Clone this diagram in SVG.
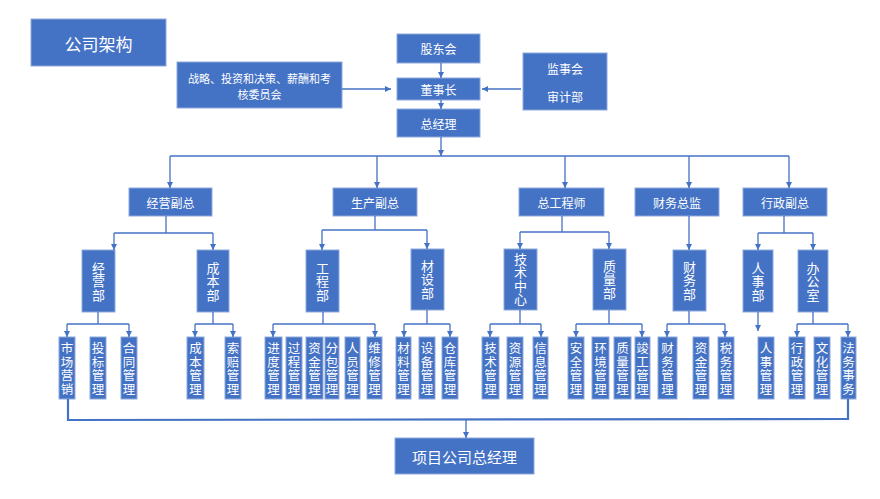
<svg xmlns="http://www.w3.org/2000/svg" width="880" height="499" viewBox="0 0 880 499">
<defs>
<marker id="ah" viewBox="0 0 10 10" refX="10" refY="5" markerWidth="6" markerHeight="6" markerUnits="userSpaceOnUse" orient="auto">
<path d="M0,0 L10,5 L0,10 z" fill="#4472C4"/>
</marker>
<style>
.b{fill:#4472C4;stroke:#8EA9DB;stroke-width:1}
.t{fill:#ffffff;font-family:"Noto Sans CJK SC","Microsoft YaHei",sans-serif;text-anchor:middle;dominant-baseline:central}
.v{writing-mode:vertical-rl;text-orientation:upright}
.s{font-size:12.5px;letter-spacing:1.2px}
.d{font-size:13px;letter-spacing:0.5px}
.m{font-size:12px}
.c line,.c polyline{stroke:#4472C4;stroke-width:1.3;fill:none}
.a{marker-end:url(#ah)}
</style>
</defs>
<rect width="880" height="499" fill="#ffffff"/>

<g id="title"><rect class="b" x="31" y="19" width="135" height="47"/><text class="t" x="98.5" y="43" style="font-size:17px">公司架构</text></g>
<g id="committee"><rect class="b" x="177" y="62" width="165" height="46"/><text class="t" x="259.5" y="77.5" style="font-size:11px">战略、投资和决策、薪酬和考</text><text class="t" x="259.5" y="93.5" style="font-size:11px">核委员会</text></g>
<g id="gudonghui"><rect class="b" x="397" y="34" width="83" height="29"/><text class="t m" x="438.5" y="48.5">股东会</text></g>
<g id="dongshizhang"><rect class="b" x="397" y="78" width="83" height="22"/><text class="t m" x="438.5" y="89">董事长</text></g>
<g id="zongjingli"><rect class="b" x="397" y="109" width="83" height="28"/><text class="t m" x="438.5" y="123">总经理</text></g>
<g id="jianshi"><rect class="b" x="523" y="53" width="84" height="57"/><text class="t m" x="565" y="68">监事会</text><text class="t m" x="565" y="96">审计部</text></g>

<g id="vp1"><rect class="b" x="129" y="188" width="83" height="28"/><text class="t m" x="170.5" y="202">经营副总</text></g>
<g id="vp2"><rect class="b" x="333" y="188" width="84" height="28"/><text class="t m" x="375" y="202">生产副总</text></g>
<g id="vp3"><rect class="b" x="519" y="188" width="85" height="28"/><text class="t m" x="561.5" y="202">总工程师</text></g>
<g id="vp4"><rect class="b" x="635" y="188" width="84" height="28"/><text class="t m" x="677" y="202">财务总监</text></g>
<g id="vp5"><rect class="b" x="743" y="188" width="84" height="28"/><text class="t m" x="785" y="202">行政副总</text></g>

<g id="dept-jingying"><rect class="b" x="82" y="250" width="33" height="62"/><text class="t v d" x="98.5" y="281.5">经营部</text></g>
<g id="dept-chengben"><rect class="b" x="197" y="250" width="32" height="62"/><text class="t v d" x="213" y="281.5">成本部</text></g>
<g id="dept-gongcheng"><rect class="b" x="306" y="250" width="33" height="62"/><text class="t v d" x="322.5" y="281.5">工程部</text></g>
<g id="dept-caishe"><rect class="b" x="411" y="249" width="33" height="61"/><text class="t v d" x="427.5" y="279.5">材设部</text></g>
<g id="dept-jishu"><rect class="b" x="504" y="249" width="33" height="61"/><text class="t v d" x="520.5" y="279.5">技术中心</text></g>
<g id="dept-zhiliang"><rect class="b" x="593" y="249" width="33" height="61"/><text class="t v d" x="609.5" y="279.5">质量部</text></g>
<g id="dept-caiwu"><rect class="b" x="673" y="250" width="33" height="61"/><text class="t v d" x="689.5" y="280.5">财务部</text></g>
<g id="dept-renshi"><rect class="b" x="743" y="250" width="30" height="62"/><text class="t v d" x="758" y="281.5">人事部</text></g>
<g id="dept-bangong"><rect class="b" x="798" y="250" width="30" height="62"/><text class="t v d" x="813" y="281.5">办公室</text></g>

<g id="n-shichang"><rect class="b" x="59" y="337" width="16" height="62"/><text class="t v s" x="67" y="369.5">市场营销</text></g>
<g id="n-toubiao"><rect class="b" x="90" y="337" width="16" height="62"/><text class="t v s" x="98" y="369.5">投标管理</text></g>
<g id="n-hetong"><rect class="b" x="121" y="337" width="16" height="62"/><text class="t v s" x="129" y="369.5">合同管理</text></g>
<g id="n-chengben"><rect class="b" x="187" y="337" width="17" height="62"/><text class="t v s" x="195.5" y="369.5">成本管理</text></g>
<g id="n-suopei"><rect class="b" x="225" y="337" width="16" height="62"/><text class="t v s" x="233" y="369.5">索赔管理</text></g>
<g id="n-jindu"><rect class="b" x="265" y="337" width="17" height="62"/><text class="t v s" x="273.5" y="369.5">进度管理</text></g>
<g id="n-guocheng"><rect class="b" x="286" y="337" width="16" height="62"/><text class="t v s" x="294" y="369.5">过程管理</text></g>
<g id="n-zijin1"><rect class="b" x="306" y="337" width="17" height="62"/><text class="t v s" x="314.5" y="369.5">资金管理</text></g>
<g id="n-fenbao"><rect class="b" x="325" y="337" width="14" height="62"/><text class="t v s" x="332" y="369.5">分包管理</text></g>
<g id="n-renyuan"><rect class="b" x="345" y="337" width="15" height="62"/><text class="t v s" x="352.5" y="369.5">人员管理</text></g>
<g id="n-weixiu"><rect class="b" x="367" y="337" width="15" height="62"/><text class="t v s" x="374.5" y="369.5">维修管理</text></g>
<g id="n-cailiao"><rect class="b" x="396" y="337" width="15" height="62"/><text class="t v s" x="403.5" y="369.5">材料管理</text></g>
<g id="n-shebei"><rect class="b" x="419" y="337" width="16" height="62"/><text class="t v s" x="427" y="369.5">设备管理</text></g>
<g id="n-cangku"><rect class="b" x="442" y="337" width="16" height="62"/><text class="t v s" x="450" y="369.5">仓库管理</text></g>
<g id="n-jishu"><rect class="b" x="482" y="337" width="17" height="62"/><text class="t v s" x="490.5" y="369.5">技术管理</text></g>
<g id="n-ziyuan"><rect class="b" x="507" y="337" width="16" height="62"/><text class="t v s" x="515" y="369.5">资源管理</text></g>
<g id="n-xinxi"><rect class="b" x="533" y="337" width="15" height="62"/><text class="t v s" x="540.5" y="369.5">信息管理</text></g>
<g id="n-anquan"><rect class="b" x="568" y="337" width="16" height="62"/><text class="t v s" x="576" y="369.5">安全管理</text></g>
<g id="n-huanjing"><rect class="b" x="592" y="337" width="17" height="62"/><text class="t v s" x="600.5" y="369.5">环境管理</text></g>
<g id="n-zhiliang"><rect class="b" x="614" y="337" width="17" height="62"/><text class="t v s" x="622.5" y="369.5">质量管理</text></g>
<g id="n-jungong"><rect class="b" x="635" y="337" width="15" height="62"/><text class="t v s" x="642.5" y="369.5">竣工管理</text></g>
<g id="n-caiwu"><rect class="b" x="658" y="337" width="19" height="62"/><text class="t v s" x="667.5" y="369.5">财务管理</text></g>
<g id="n-zijin2"><rect class="b" x="693" y="337" width="16" height="62"/><text class="t v s" x="701" y="369.5">资金管理</text></g>
<g id="n-shuiwu"><rect class="b" x="718" y="337" width="16" height="62"/><text class="t v s" x="726" y="369.5">税务管理</text></g>
<g id="n-renshi"><rect class="b" x="758" y="337" width="16" height="62"/><text class="t v s" x="766" y="369.5">人事管理</text></g>
<g id="n-xingzheng"><rect class="b" x="789" y="337" width="16" height="62"/><text class="t v s" x="797" y="369.5">行政管理</text></g>
<g id="n-wenhua"><rect class="b" x="814" y="337" width="16" height="62"/><text class="t v s" x="822" y="369.5">文化管理</text></g>
<g id="n-fawu"><rect class="b" x="841" y="337" width="15" height="62"/><text class="t v s" x="848.5" y="369.5">法务事务</text></g>

<g id="xiangmu"><rect class="b" x="395" y="438" width="139" height="36"/><text class="t" x="464.5" y="456" style="font-size:15px">项目公司总经理</text></g>

<g id="connectors" class="c">
<line class="a" x1="441" y1="63" x2="441" y2="78"/>
<line class="a" x1="342" y1="89" x2="391" y2="89"/>
<line class="a" x1="521" y1="89" x2="482" y2="89"/>
<line class="a" x1="441" y1="100" x2="441" y2="109"/>
<line class="a" x1="441" y1="137" x2="441" y2="156"/>
<line x1="170" y1="156" x2="789" y2="156"/>
<line class="a" x1="170" y1="156" x2="170" y2="188"/>
<line class="a" x1="377" y1="156" x2="377" y2="188"/>
<line class="a" x1="565" y1="156" x2="565" y2="188"/>
<line class="a" x1="689" y1="156" x2="689" y2="188"/>
<line class="a" x1="789" y1="156" x2="789" y2="188"/>

<line x1="166" y1="216" x2="166" y2="233"/>
<line x1="114" y1="233" x2="213" y2="233"/>
<line class="a" x1="114" y1="233" x2="114" y2="250"/>
<line class="a" x1="213" y1="233" x2="213" y2="250"/>
<line x1="375" y1="216" x2="375" y2="230"/>
<line x1="322" y1="230" x2="427" y2="230"/>
<line class="a" x1="322" y1="230" x2="322" y2="250"/>
<line class="a" x1="427" y1="230" x2="427" y2="249"/>
<line x1="562" y1="216" x2="562" y2="232"/>
<line x1="520" y1="232" x2="609" y2="232"/>
<line class="a" x1="520" y1="232" x2="520" y2="249"/>
<line class="a" x1="609" y1="232" x2="609" y2="249"/>
<line class="a" x1="689" y1="216" x2="689" y2="250"/>
<line x1="784" y1="216" x2="784" y2="233"/>
<line x1="758" y1="233" x2="813" y2="233"/>
<line class="a" x1="758" y1="233" x2="758" y2="250"/>
<line class="a" x1="813" y1="233" x2="813" y2="250"/>

<line x1="98" y1="312" x2="98" y2="324"/>
<line x1="67" y1="324" x2="129" y2="324"/>
<line class="a" x1="67" y1="324" x2="67" y2="337"/>
<line class="a" x1="129" y1="324" x2="129" y2="337"/>
<line x1="213" y1="312" x2="213" y2="324"/>
<line x1="195" y1="324" x2="233" y2="324"/>
<line class="a" x1="195" y1="324" x2="195" y2="337"/>
<line class="a" x1="233" y1="324" x2="233" y2="337"/>
<line x1="323" y1="312" x2="323" y2="324"/>
<line x1="273" y1="324" x2="375" y2="324"/>
<line class="a" x1="273" y1="324" x2="273" y2="337"/>
<line class="a" x1="375" y1="324" x2="375" y2="337"/>
<line x1="427" y1="310" x2="427" y2="324"/>
<line x1="404" y1="324" x2="450" y2="324"/>
<line class="a" x1="404" y1="324" x2="404" y2="337"/>
<line class="a" x1="450" y1="324" x2="450" y2="337"/>
<line x1="520" y1="310" x2="520" y2="324"/>
<line x1="490" y1="324" x2="541" y2="324"/>
<line class="a" x1="490" y1="324" x2="490" y2="337"/>
<line class="a" x1="541" y1="324" x2="541" y2="337"/>
<line x1="609" y1="310" x2="609" y2="324"/>
<line x1="576" y1="324" x2="642" y2="324"/>
<line class="a" x1="576" y1="324" x2="576" y2="337"/>
<line class="a" x1="642" y1="324" x2="642" y2="337"/>
<line x1="689" y1="311" x2="689" y2="324"/>
<line x1="667" y1="324" x2="725" y2="324"/>
<line class="a" x1="667" y1="324" x2="667" y2="337"/>
<line class="a" x1="725" y1="324" x2="725" y2="337"/>
<line class="a" x1="758" y1="312" x2="758" y2="331"/>
<line x1="813" y1="312" x2="813" y2="324"/>
<line x1="797" y1="324" x2="848" y2="324"/>
<line class="a" x1="797" y1="324" x2="797" y2="337"/>
<line class="a" x1="848" y1="324" x2="848" y2="337"/>

<polyline points="68,399 68,420 848,419 848,399" style="stroke-width:2.2"/>
<line class="a" x1="466" y1="420" x2="466" y2="438"/>
</g>
</svg>
